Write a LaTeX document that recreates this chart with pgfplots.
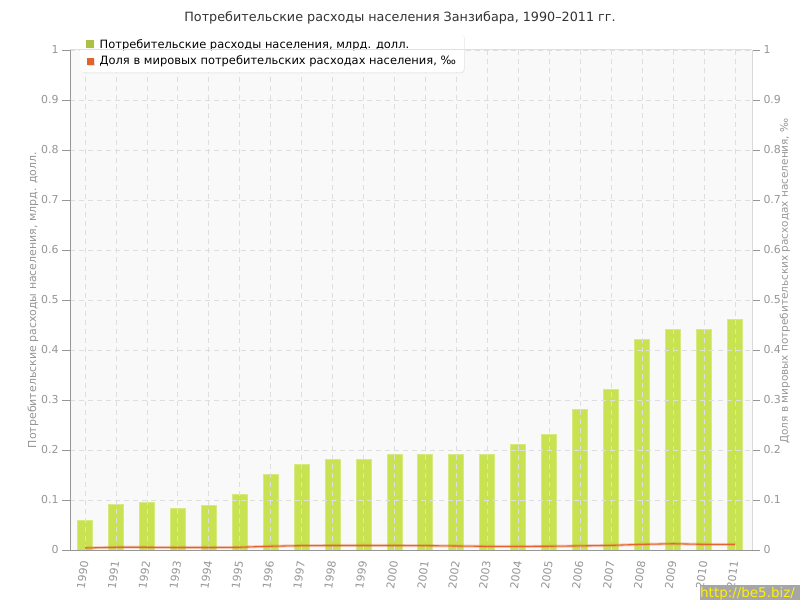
\documentclass[border=0pt]{standalone}
\usepackage{fontspec}
\setmainfont{DejaVu Sans}
\usepackage{pgfplots}
\usepackage{pgfplotstable}
\pgfplotsset{compat=1.18}
\usetikzlibrary{shadows}
\definecolor{bargreen}{RGB}{200,226,82}
\definecolor{baredge}{RGB}{214,234,128}
\definecolor{lineor}{RGB}{228,98,44}
\definecolor{tickgray}{RGB}{150,150,150}
\definecolor{gridgray}{RGB}{222,222,222}
\definecolor{bggray}{RGB}{249,249,249}
\definecolor{axgray}{RGB}{150,150,150}

\pgfplotstableread{
year val
1990 0.059
1991 0.090
1992 0.094
1993 0.083
1994 0.088
1995 0.110
1996 0.150
1997 0.170
1998 0.180
1999 0.180
2000 0.190
2001 0.190
2002 0.190
2003 0.190
2004 0.210
2005 0.230
2006 0.280
2007 0.320
2008 0.420
2009 0.440
2010 0.440
2011 0.460
}\bars

\pgfplotstableread{
year val
1990 0.0040
1991 0.0055
1992 0.0055
1993 0.0050
1994 0.0050
1995 0.0055
1996 0.0075
1997 0.0087
1998 0.0090
1999 0.0090
2000 0.0090
2001 0.0087
2002 0.0080
2003 0.0073
2004 0.0073
2005 0.0075
2006 0.0082
2007 0.0093
2008 0.0113
2009 0.0125
2010 0.0113
2011 0.0113
}\share

\pgfplotsset{
  /pgf/number format/1000 sep={},
  /pgf/number format/assume math mode=true,
}

\begin{document}
\begin{tikzpicture}
\useasboundingbox (0,0) rectangle (800bp,600bp);
\fill[white] (0,0) rectangle (800bp,600bp);
\begin{axis}[
  at={(70bp,50bp)}, anchor=south west,
  width=682bp, height=500bp, scale only axis,
  xmin=1989.515, xmax=2011.55, ymin=0, ymax=1,
  axis background/.style={fill=bggray},
  axis x line*=bottom, axis y line*=left,
  x axis line style={draw=axgray, line width=1bp, -},
  y axis line style={draw=axgray, line width=1bp, -},
  xtick={1990,1991,...,2011},
  ytick={0,0.1,0.2,0.3,0.4,0.5,0.6,0.7,0.8,0.9,1},
  yticklabel style={font=\fontsize{11}{13}\selectfont, text=tickgray, /pgf/number format/fixed, /pgf/number format/precision=1},
  xticklabel style={font=\fontsize{11}{13}\selectfont, text=tickgray, rotate=82, anchor=east},
  xtick style={draw=none},
  ytick style={draw=axgray, line width=0.8bp},
  tick align=outside, major tick length=8bp,
  xmajorgrids, ymajorgrids,
  grid style={draw=gridgray, dash pattern=on 5bp off 4bp, line width=0.8bp},
  axis on top,
  ylabel={Потребительские расходы населения, млрд. долл.},
  every axis y label/.style={at={(-0.0543,0.5)}, rotate=90, anchor=center, font=\fontsize{11}{13}\selectfont, text=tickgray},
  legend style={at={(0.0147,1.034)}, anchor=north west, draw=none, fill=white,
    rounded corners=4bp, drop shadow={opacity=0.12, shadow xshift=1bp, shadow yshift=-1bp},
    font=\fontsize{11.5}{14}\selectfont, inner xsep=6bp, inner ysep=4bp, row sep=2.5bp},
  legend cell align=left,
]
\addplot[ybar, bar width=15bp, fill=bargreen, draw=baredge, line width=1bp,
  legend image code/.code={\fill[bargreen!85!black, sharp corners] (0bp,-3bp) rectangle (6.5bp,3.5bp);}]
  table[x=year,y=val]{\bars};
\addlegendentry{\hspace{4bp}Потребительские расходы населения, млрд. долл.}
\addlegendimage{legend image code/.code={\fill[lineor, sharp corners] (0bp,-3bp) rectangle (6.5bp,3.5bp);}}
\addlegendentry{\hspace{4bp}Доля в мировых потребительских расходах населения, ‰}
\end{axis}
\begin{axis}[
  at={(70bp,50bp)}, anchor=south west,
  width=682bp, height=500bp, scale only axis,
  xmin=1989.515, xmax=2011.55, ymin=0, ymax=1,
  axis x line*=top, xtick=\empty,
  x axis line style={draw=gray!25, line width=1bp, -},
  axis y line*=right,
  y axis line style={draw=gray!30, line width=1bp, -},
  ytick={0,0.1,0.2,0.3,0.4,0.5,0.6,0.7,0.8,0.9,1},
  yticklabel style={font=\fontsize{11}{13}\selectfont, text=tickgray, /pgf/number format/fixed, /pgf/number format/precision=1},
  ytick style={draw=tickgray, line width=0.8bp},
  tick align=outside, major tick length=8bp,
  ylabel={Доля в мировых потребительских расходах населения, ‰},
  every axis y label/.style={at={(1.0484,0.538)}, rotate=90, anchor=center, font=\fontsize{10.5}{13}\selectfont, text=tickgray},
]
\addplot[lineor, opacity=0.3, line width=3bp, mark=none] table[x=year,y=val]{\share};
\addplot[lineor, line width=1.1bp, mark=none] table[x=year,y=val]{\share};
\end{axis}
\node[text=black!80, font=\fontsize{12.8}{15}\selectfont] at (400bp,582bp) {Потребительские расходы населения Занзибара, 1990–2011 гг.};
\fill[black!35] (700bp,0) rectangle (800bp,15bp);
\node[text=yellow, anchor=west, inner sep=0pt, font=\fontsize{13.5}{15}\selectfont] at (700bp,6.5bp) {http://be5.biz/};
\end{tikzpicture}
\end{document}
